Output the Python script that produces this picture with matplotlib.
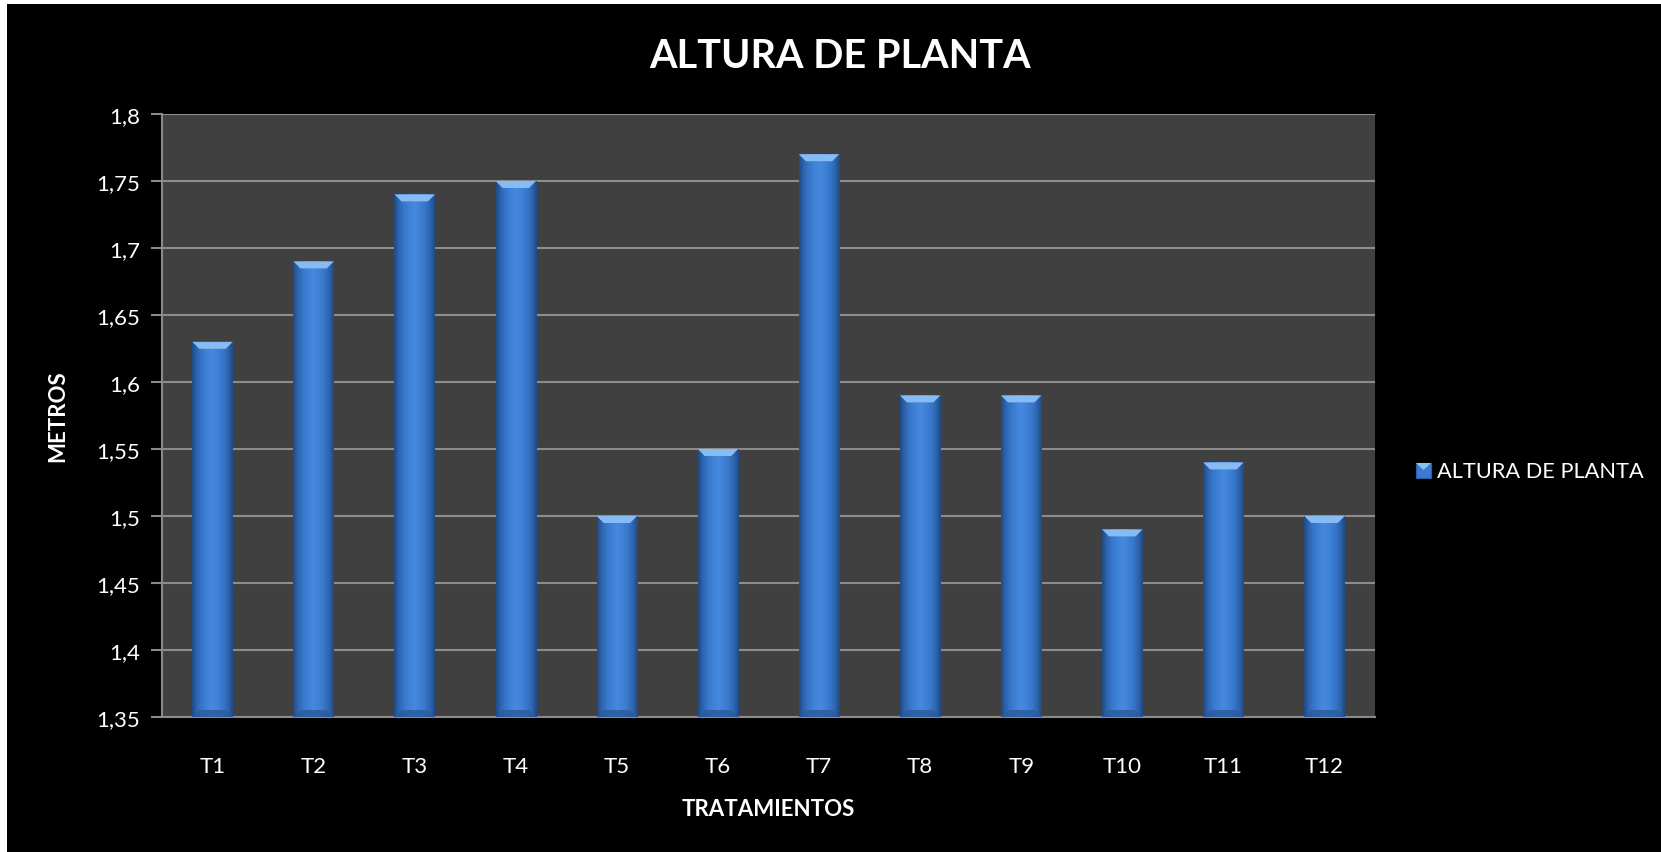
import matplotlib
matplotlib.use("Agg")
import matplotlib.pyplot as plt
import numpy as np
from matplotlib.patches import Rectangle, Polygon
from matplotlib.colors import LinearSegmentedColormap

categories = ["T1", "T2", "T3", "T4", "T5", "T6", "T7", "T8", "T9", "T10", "T11", "T12"]
values = [1.63, 1.69, 1.74, 1.75, 1.50, 1.55, 1.77, 1.59, 1.59, 1.49, 1.54, 1.50]
yticks = [1.35, 1.4, 1.45, 1.5, 1.55, 1.6, 1.65, 1.7, 1.75, 1.8]
ytick_labels = ["1,35", "1,4", "1,45", "1,5", "1,55", "1,6", "1,65", "1,7", "1,75", "1,8"]
series_name = "ALTURA DE PLANTA"

W, H = 1661, 853
fig = plt.figure(figsize=(W / 100, H / 100), dpi=100)
fig.patch.set_facecolor("white")
fig.add_artist(Rectangle((7 / W, 0), 1 - 7 / W, 1 - 5 / H, transform=fig.transFigure,
                         facecolor="black", edgecolor="none", zorder=0))

FONT = ["Lato", "DejaVu Sans"]
left, right, top, bottom = 162, 1375, 115, 718
ax = fig.add_axes([left / W, (H - bottom) / H, (right - left) / W, (bottom - top) / H])
ax.set_facecolor("#404040")
ymin, ymax = 1.35, 1.8
ax.set_ylim(ymin, ymax)
n = len(categories)
ax.set_xlim(-0.5, n - 0.5)
x = np.arange(n)
bw = 0.40

for s in ["top", "right"]:
    ax.spines[s].set_visible(False)
for s in ["left", "bottom"]:
    ax.spines[s].set_color("#8a8a8a")
    ax.spines[s].set_linewidth(1.5)

ax.set_yticks(yticks)
ax.set_yticklabels(ytick_labels, fontsize=16, color="white", family=FONT)
ax.tick_params(axis="y", length=8, width=1.5, color="#8a8a8a", direction="out", pad=8)
ax.set_xticks(x)
ax.set_xticklabels(categories, fontsize=16, color="white", family=FONT)
ax.tick_params(axis="x", length=0, pad=28)
ax.yaxis.grid(True, color="#8c8c8c", linewidth=1.5)
ax.set_axisbelow(True)

bars = ax.bar(x, [v - ymin for v in values], bottom=ymin, width=bw, color="#3a7bd0",
              edgecolor="none", zorder=2, label=series_name)

cmap = LinearSegmentedColormap.from_list(
    "bar", ["#1f4a85", "#2e66b0", "#3878cc", "#3f82d8", "#4689dd", "#3f82d8", "#3878cc", "#2e66b0", "#1f4a85"])
grad = np.linspace(0, 1, 256).reshape(1, -1)
dpp = (ymax - ymin) / (bottom - top)  # data per pixel
xpp = n / (right - left)
for b, v in zip(bars, values):
    x0 = b.get_x()
    x1 = x0 + b.get_width()
    im = ax.imshow(grad, cmap=cmap, aspect="auto", extent=(x0, x1, ymin, v), zorder=3,
                   interpolation="bicubic")
    im.set_clip_path(b)
    bh = 7 * dpp
    bx = 7 * xpp
    # top bevel
    ax.add_patch(Polygon([(x0, v), (x1, v), (x1 - bx, v - bh), (x0 + bx, v - bh)],
                         closed=True, facecolor="#86bcf3", edgecolor="none", zorder=4))
    # bottom bevel
    ax.add_patch(Polygon([(x0, ymin), (x1, ymin), (x1 - bx, ymin + bh), (x0 + bx, ymin + bh)],
                         closed=True, facecolor="#2a5b9c", edgecolor="none", alpha=0.8, zorder=4))

fig.text(840 / W, 1 - 56 / H, "ALTURA DE PLANTA", ha="center", va="center", color="white",
         fontsize=28.5, fontweight="bold", family=FONT)
fig.text(58 / W, 1 - 416 / H, "METROS", ha="center", va="center", rotation=90, color="white",
         fontsize=16, fontweight="bold", family=FONT)
fig.text(768 / W, 1 - 810 / H, "TRATAMIENTOS", ha="center", va="center", color="white",
         fontsize=16, fontweight="bold", family=FONT)

# legend
fig.add_artist(Rectangle((1416 / W, 1 - 479 / H), 15 / W, 15 / H, transform=fig.transFigure,
                         facecolor="#3a7bd0", edgecolor="#2a5fa5", linewidth=0.8))
fig.add_artist(Polygon([(1416 / W, 1 - 464 / H), (1431 / W, 1 - 464 / H), (1423.5 / W, 1 - 471 / H)],
                       closed=True, transform=fig.transFigure, facecolor="#8cc0f5", edgecolor="none"))
fig.text(1437 / W, 1 - 472 / H, series_name, ha="left", va="center", color="white",
         fontsize=15.7, family=FONT)

fig.savefig("out.png", dpi=100, facecolor=fig.get_facecolor())
